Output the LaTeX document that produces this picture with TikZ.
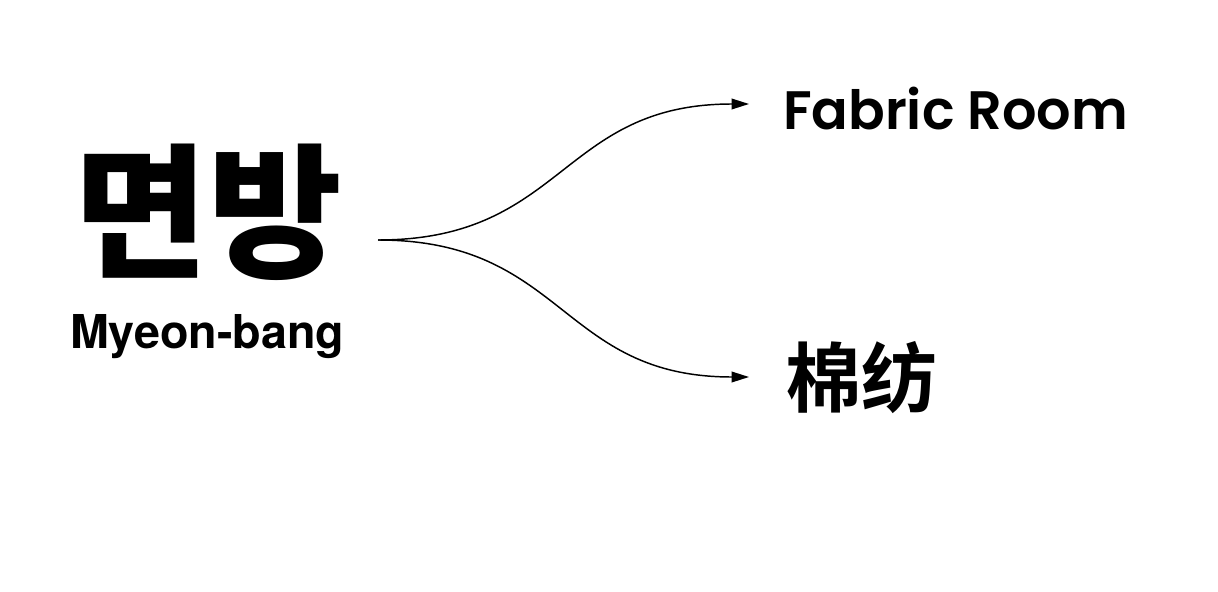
\documentclass[tikz,border=0pt]{standalone}
\usepackage{fontspec}
\usetikzlibrary{arrows.meta}
\newfontfamily\krfont{Noto Sans CJK KR}[BoldFont={* Black}]
\newfontfamily\scfont{Noto Sans CJK SC}[BoldFont={* Bold}]
\newfontfamily\helv{TeX Gyre Heros}
\newfontfamily\geo{Poppins SemiBold}
\tikzset{
  lbl/.style={inner sep=0pt, outer sep=0pt, text=black},
  conn/.style={line width=1.1pt, -{Triangle[length=13pt,width=8pt]}},
}
\begin{document}
\begin{tikzpicture}[x=0.75pt,y=-0.75pt]
\useasboundingbox[fill=white] (0,0) rectangle (1218,592);
\node[lbl] (mb) at (208,212) {\fontsize{109pt}{109pt}\selectfont\krfont\bfseries 면방};
\node[lbl, anchor=base west] (rom) at (70,348) {\fontsize{35pt}{35pt}\selectfont\helv\bfseries Myeon-bang};
\node[lbl, anchor=base west] (fr) at (783,129) {\fontsize{40.6pt}{40.6pt}\selectfont\geo Fabric Room};
\node[lbl] (cn) at (861,378) {\fontsize{57pt}{57pt}\selectfont\scfont\bfseries 棉纺};
\coordinate (s) at (378,240);
\coordinate (t1) at (749,104);
\coordinate (t2) at (749,377);
\draw[conn] (s) .. controls (565,240) and (560,104) .. (t1);
\draw[conn] (s) .. controls (565,240) and (560,377) .. (t2);
\end{tikzpicture}
\end{document}
